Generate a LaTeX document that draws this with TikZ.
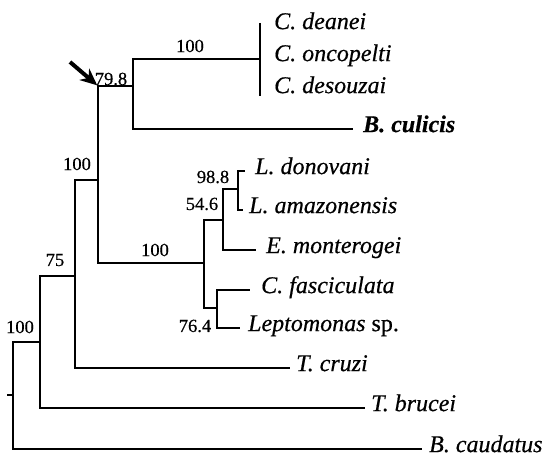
\documentclass[tikz,border=0pt]{standalone}
\usepackage{fontspec}
\setmainfont{Liberation Serif}
\newfontfamily\treefont{Liberation Serif}[FakeBold=0.5]
\usetikzlibrary{positioning,arrows.meta}

\begin{document}
\begin{tikzpicture}[x=1pt,y=-1pt,
    branch/.style={line width=2.6pt,line join=miter},
    taxon/.style={inner sep=0pt,text height=0.62em,text depth=0pt,
                  font=\treefont\fontsize{24}{28}\selectfont\itshape},
    support/.style={inner sep=0pt,font=\treefont\fontsize{18.5}{22}\selectfont}]
  \useasboundingbox (0,0) rectangle (560,457);
  % internal nodes
  \foreach \nm/\x/\y in {n0/13/395,n1/40/342,n2/75/276,n3/98/180,n4/133/86,
                         n5/260/59,n6/204/263,n7/223/220,n8/238/189,n9/217/308}{
    \coordinate (\nm) at (\x,\y);}
  \coordinate (stem) at (7,395);
  \coordinate (n3top) at (98,86);
  \coordinate (combtop) at (260,23);
  \coordinate (combbot) at (260,96);
  % tips and taxon names
  \foreach \nm/\x/\y/\gp/\txt in {cdea/260/26/14/{C. deanei},conc/260/58/14/{C. oncopelti},
                                  cdes/260/90/14/{C. desouzai},bcul/353/129/10/{\bfseries B. culicis},
                                  ldon/245/171/10/{L. donovani},lama/243/210/6/{L. amazonensis},
                                  emon/256/250/10/{E. monterogei},cfas/250/290/11/{C. fasciculata},
                                  lept/240/328/8/{Leptomonas \textup{sp.}},tcru/290/368/6/{T. cruzi},
                                  tbru/365/408/6/{T. brucei},bcau/422/449/7/{B. caudatus}}{
    \coordinate (\nm) at (\x,\y);
    \node[taxon,right=\gp pt of \nm] (\nm-lbl) {\txt};}
  % branches
  \draw[branch] (stem) -- (n0);
  \draw[branch] (n0) |- (n1);  \draw[branch] (n0) |- (bcau);
  \draw[branch] (n1) |- (n2);  \draw[branch] (n1) |- (tbru);
  \draw[branch] (n2) |- (n3);  \draw[branch] (n2) |- (tcru);
  \draw[branch] (n3) |- (n4);  \draw[branch] (n3) |- (n6);
  \draw[branch] (n4) |- (n5);  \draw[branch] (n4) |- (bcul);
  \draw[branch] (combtop) -- (combbot);
  \draw[branch] (n6) |- (n7);  \draw[branch] (n6) |- (n9);
  \draw[branch] (n7) |- (n8);  \draw[branch] (n7) |- (emon);
  \draw[branch] (n8) |- (ldon); \draw[branch] (n8) |- (lama);
  \draw[branch] (n9) |- (cfas); \draw[branch] (n9) |- (lept);
  % support values
  \foreach \nm/\x/\y/\val in {s1/20/327/100,s2/55/260/75,s3/77/164/100,s4/111/79/79.8,
                              s5/190/46/100,s6/155/250/100,s8/213/177/98.8,s7/202/204/54.6,
                              s9/195/326/76.4}{
    \node[support] (\nm) at (\x,\y) {\val};}
  % arrow to the 79.8 node
  \coordinate (arrtail) at (70,62);
  \draw[line width=4pt,-{Stealth[length=17pt,width=15pt]},shorten >=1pt] (arrtail) -- (n3top);
\end{tikzpicture}
\end{document}
